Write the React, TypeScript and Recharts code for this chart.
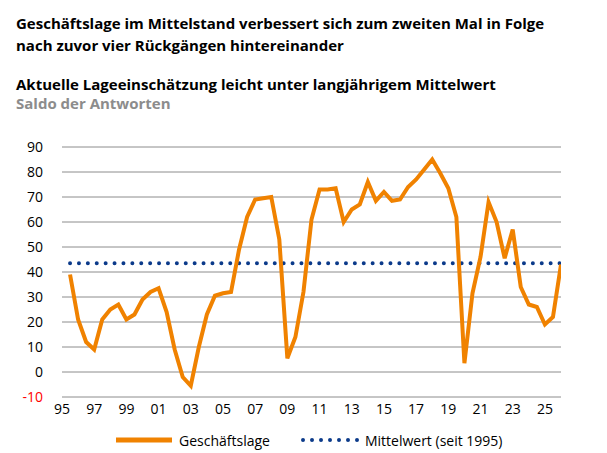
import { LineChart, Line, XAxis, YAxis, CartesianGrid } from 'recharts';

// Halbjahreswerte, Saldo der Antworten
const perioden = [
  1995.5, 1996, 1996.5, 1997, 1997.5, 1998, 1998.5, 1999, 1999.5, 2000,
  2000.5, 2001, 2001.5, 2002, 2002.5, 2003, 2003.5, 2004, 2004.5, 2005,
  2005.5, 2006, 2006.5, 2007, 2007.5, 2008, 2008.5, 2009, 2009.5, 2010,
  2010.5, 2011, 2011.5, 2012, 2012.5, 2013, 2013.5, 2014, 2014.5, 2015,
  2015.5, 2016, 2016.5, 2017, 2017.5, 2018, 2018.5, 2019, 2019.5, 2020,
  2020.5, 2021, 2021.5, 2022, 2022.5, 2023, 2023.5, 2024, 2024.5, 2025,
  2025.5, 2026,
];

const geschaeftslage = [
  39, 21, 12, 9, 21, 25, 27, 21, 23, 29,
  32, 33.5, 24, 9, -2, -5.5, 10, 23, 30.5, 31.5,
  32, 49, 62, 69, 69.5, 70, 53, 5.5, 14, 32,
  61, 73, 73, 73.5, 60, 65, 67, 76, 68.5, 72,
  68.5, 69, 74, 77, 81, 85, 79.5, 73.5, 62, 3.5,
  31.5, 46, 68, 60, 45.5, 57, 34, 27, 26, 19,
  22, 43,
];

const mittelwert = 43.5;

const xTicks = [1995, 1997, 1999, 2001, 2003, 2005, 2007, 2009, 2011, 2013, 2015, 2017, 2019, 2021, 2023, 2025];
const yTicks = [-10, 0, 10, 20, 30, 40, 50, 60, 70, 80, 90];

const data = perioden.map((jahr, i) => ({
  jahr,
  lage: geschaeftslage[i],
  mittel: mittelwert,
}));

const ORANGE = '#F08200';
const BLAU = '#0B3A8A';
const TICK_FONT = '"Open Sans", sans-serif';

function YTick({ x, y, payload }: any) {
  return (
    <text
      x={x}
      y={y}
      dy="0.355em"
      textAnchor="end"
      fontSize={14}
      fontFamily={TICK_FONT}
      fill={payload.value < 0 ? '#ff0000' : '#000'}
    >
      {payload.value}
    </text>
  );
}

function XTick({ x, y, payload }: any) {
  return (
    <text x={x} y={y} dy="0.71em" textAnchor="middle" fontSize={14} fontFamily={TICK_FONT} fill="#000">
      {String(payload.value % 100).padStart(2, '0')}
    </text>
  );
}

const titelStil = { position: 'absolute' as const, left: 8, fontSize: 15, fontWeight: 700, whiteSpace: 'nowrap' as const };

export default function App() {
  return (
    <div style={{ position: 'relative', width: 599, height: 445, fontFamily: '"Open Sans", sans-serif' }}>
      <div style={{ ...titelStil, top: 4, lineHeight: '22px', color: '#000' }}>
        Geschäftslage im Mittelstand verbessert sich zum zweiten Mal in Folge
        <br />
        nach zuvor vier Rückgängen hintereinander
      </div>
      <div style={{ ...titelStil, top: 66, lineHeight: '20px', color: '#000' }}>
        Aktuelle Lageeinschätzung leicht unter langjährigem Mittelwert
      </div>
      <div style={{ ...titelStil, top: 85, lineHeight: '20px', color: '#8c8c8c' }}>
        Saldo der Antworten
      </div>

      <div style={{ position: 'absolute', left: 0, top: 0 }}>
        <LineChart width={599} height={445} data={data} margin={{ top: 139, right: 46, left: 0, bottom: 26 }}>
          <CartesianGrid vertical={false} stroke="#8c8c8c" strokeWidth={1} />
          <XAxis
            dataKey="jahr"
            type="number"
            domain={[1995, 2026]}
            ticks={xTicks}
            allowDataOverflow
            axisLine={false}
            tickLine={false}
            tickMargin={1}
            height={30}
            interval={0}
            tick={<XTick />}
          />
          <YAxis
            domain={[-10, 90]}
            ticks={yTicks}
            axisLine={false}
            tickLine={false}
            tickMargin={13}
            width={54}
            interval={0}
            tick={<YTick />}
          />
          <Line
            dataKey="mittel"
            stroke={BLAU}
            strokeWidth={4}
            strokeDasharray="0 8.9"
            strokeLinecap="round"
            dot={false}
            isAnimationActive={false}
          />
          <Line
            dataKey="lage"
            stroke={ORANGE}
            strokeWidth={4}
            dot={false}
            isAnimationActive={false}
          />
        </LineChart>
      </div>

      <div
        style={{
          position: 'absolute',
          left: 108,
          top: 422,
          display: 'flex',
          alignItems: 'center',
          fontFamily: TICK_FONT,
          fontSize: 14,
          color: '#000',
          height: 20,
        }}
      >
        <svg width={58} height={8}>
          <line x1={0} y1={4} x2={56} y2={4} stroke={ORANGE} strokeWidth={5} />
        </svg>
        <span style={{ marginLeft: 5 }}>Geschäftslage</span>
        <svg width={62} height={8} style={{ marginLeft: 30 }}>
          <line x1={3} y1={4} x2={58} y2={4} stroke={BLAU} strokeWidth={4} strokeDasharray="0 9" strokeLinecap="round" />
        </svg>
        <span style={{ marginLeft: 3 }}>Mittelwert (seit 1995)</span>
      </div>
    </div>
  );
}
